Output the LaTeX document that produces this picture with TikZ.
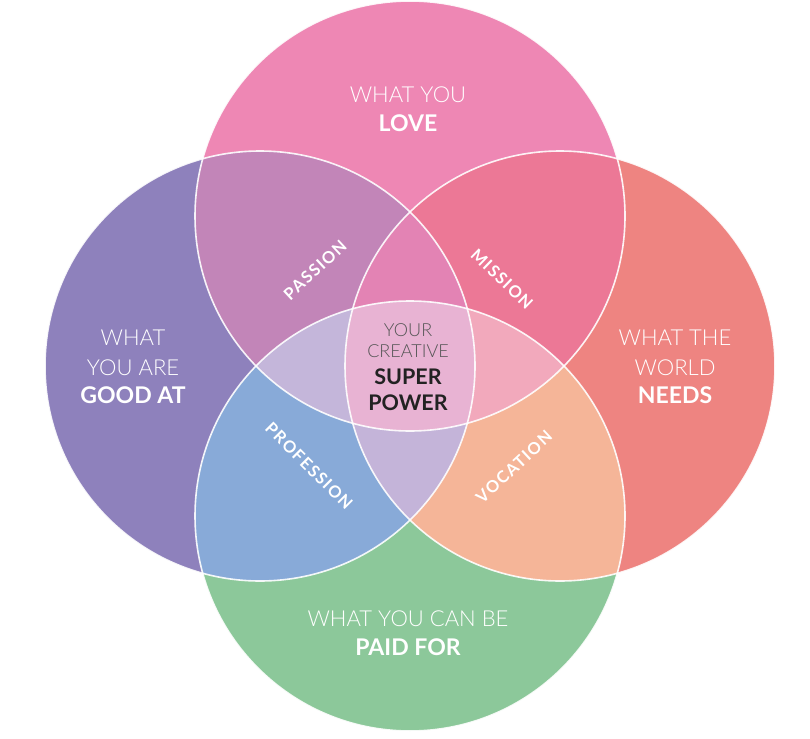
\documentclass[tikz,border=0pt]{standalone}
\usepackage{fontspec}
\setmainfont{Lato}
\newfontfamily\lightfont{Lato Light}
\newfontfamily\trackfont[LetterSpace=9]{Lato}
\definecolor{cT}{HTML}{EE87B4}
\definecolor{cL}{HTML}{8E81BC}
\definecolor{cR}{HTML}{EE8481}
\definecolor{cB}{HTML}{8CC89A}
\definecolor{cTL}{HTML}{C285B8}
\definecolor{cTR}{HTML}{EC7896}
\definecolor{cLB}{HTML}{88AAD8}
\definecolor{cRB}{HTML}{F5B598}
\definecolor{cTLR}{HTML}{E383B4}
\definecolor{cTLB}{HTML}{C4B6DA}
\definecolor{cTRB}{HTML}{F2A9BC}
\definecolor{cLRB}{HTML}{C4B4D9}
\definecolor{cC}{HTML}{E8B3D3}
\definecolor{cdark}{HTML}{222222}
\definecolor{cgray}{HTML}{555555}
\begin{document}
\begin{tikzpicture}[x=1pt,y=-1pt,
  thin label/.style={font=\lightfont\fontsize{22}{22}\selectfont, text=white, anchor=base, inner sep=0pt},
  bold label/.style={font=\bfseries\fontsize{23}{23}\selectfont, text=white, anchor=base, inner sep=0pt},
  mid thin/.style={font=\lightfont\fontsize{18}{18}\selectfont, text=cgray, anchor=base, inner sep=0pt},
  mid bold/.style={font=\bfseries\fontsize{21.5}{21.5}\selectfont, text=cdark, anchor=base, inner sep=0pt},
  overlap label/.style={font=\trackfont\bfseries\fontsize{16.5}{16.5}\selectfont, text=white, inner sep=0pt},
  rim/.style={draw=white, line width=1.6pt, draw opacity=0.9}]
\useasboundingbox (0,0) rectangle (810,738);
\def\cirT{(410,216) circle[radius=215pt]}
\def\cirB{(410,516) circle[radius=215pt]}
\def\cirL{(260,366) circle[radius=215pt]}
\def\cirR{(560,366) circle[radius=215pt]}
% single circles
\fill[cT] \cirT;
\fill[cL] \cirL;
\fill[cR] \cirR;
\fill[cB] \cirB;
% pairs
\begin{scope}\clip \cirT; \fill[cTL] \cirL; \fill[cTR] \cirR; \end{scope}
\begin{scope}\clip \cirB; \fill[cLB] \cirL; \fill[cRB] \cirR; \end{scope}
% triples
\begin{scope}\clip \cirT; \clip \cirL; \fill[cTLR] \cirR; \fill[cTLB] \cirB; \end{scope}
\begin{scope}\clip \cirT; \clip \cirR; \fill[cTRB] \cirB; \end{scope}
\begin{scope}\clip \cirL; \clip \cirR; \fill[cLRB] \cirB; \end{scope}
% centre
\begin{scope}\clip \cirT; \clip \cirL; \clip \cirR; \fill[cC] \cirB; \end{scope}
% rims
\path[rim] \cirL;
\path[rim] \cirR;
\path[rim] \cirT;
\path[rim] \cirB;
% labels
\node[thin label] (love1) at (408,103) {WHAT YOU};
\node[bold label] (love2) at (408,132) {LOVE};
\node[thin label] (good1) at (133,345) {WHAT};
\node[thin label] (good2) at (133,375) {YOU ARE};
\node[bold label] (good3) at (133,403) {GOOD AT};
\node[thin label] (need1) at (675,345) {WHAT THE};
\node[thin label] (need2) at (675,375) {WORLD};
\node[bold label] (need3) at (675,403) {NEEDS};
\node[thin label] (paid1) at (408,626) {WHAT YOU CAN BE};
\node[bold label] (paid2) at (408,655) {PAID FOR};
\node[mid thin] (sp1) at (408,336) {YOUR};
\node[mid thin] (sp2) at (408,357) {CREATIVE};
\node[mid bold] (sp3) at (408,384) {SUPER};
\node[mid bold] (sp4) at (408,410) {POWER};
\node[overlap label, rotate=43] (passion) at (315,270) {PASSION};
\node[overlap label, rotate=-44] (mission) at (502,279) {MISSION};
\node[overlap label, rotate=-45] (profession) at (309,466) {PROFESSION};
\node[overlap label, rotate=43] (vocation) at (514,467) {VOCATION};
\end{tikzpicture}
\end{document}
